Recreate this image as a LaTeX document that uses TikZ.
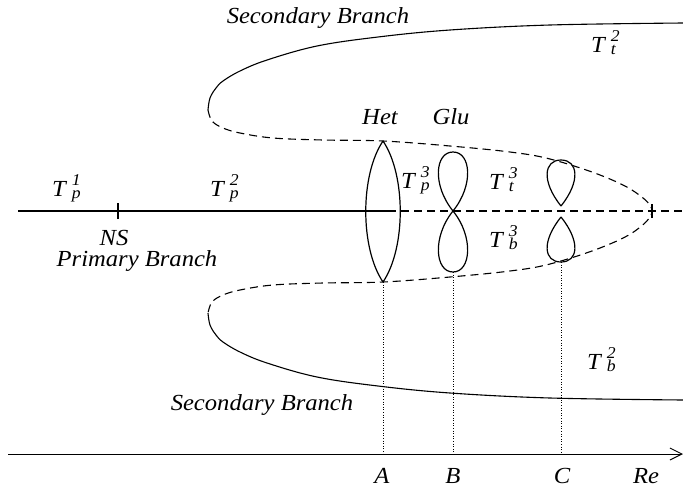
\documentclass[tikz,border=0pt]{standalone}
\usepackage{fontspec}
\setmainfont{Liberation Serif}[FakeStretch=1.07]
\usetikzlibrary{arrows.meta}
\newcommand{\scr}{\fontsize{16.5}{16.5}\selectfont\itshape}
\newcommand{\Tlab}[2]{\textit{T}\kern6pt\rlap{\raisebox{10.5pt}{\scr #2}}\raisebox{-2pt}{\scr #1}}
\tikzset{
  lbl/.style={font=\fontsize{23}{27}\selectfont\itshape, inner sep=0pt},
  branch/.style={line width=1.1pt},
  unstable/.style={line width=1.1pt, dash pattern=on 8pt off 5pt},
  primary/.style={line width=1.9pt},
  guide/.style={line width=0.8pt, dash pattern=on 1pt off 1.6pt},
  axisline/.style={line width=1pt, -{Straight Barb[length=12pt,width=12pt,line width=1pt]}},
  orbit/.style={line width=1.2pt}
}
\begin{document}
\begin{tikzpicture}[x=1pt,y=-1pt]
\useasboundingbox (0,0) rectangle (683,488);
% key coordinates
\coordinate (pstart) at (18,211);
\coordinate (psolidend) at (388,211);
\coordinate (pend) at (683,211);
\coordinate (hettop) at (383,141);
\coordinate (hetbot) at (383,282);
\coordinate (glu) at (453,211);
\coordinate (glutop) at (453,152);
\coordinate (glubot) at (453,272);
\coordinate (ct) at (561,206);
\coordinate (cttop) at (561,160);
\coordinate (cb) at (561,217);
\coordinate (cbbot) at (561,262);
\coordinate (axstart) at (8,454);
\coordinate (axend) at (683,454);
\coordinate (axA) at (383,454);
\coordinate (axB) at (453,454);
\coordinate (axC) at (561,454);
\coordinate (ns) at (118,211);
\coordinate (tip) at (652,211);

% primary branch
\draw[primary] (pstart) -- (psolidend);
\draw[line width=1.5pt, dash pattern=on 8pt off 5pt] (psolidend) -- (pend);
\draw[line width=1.2pt] ([yshift=-8pt]ns) -- ([yshift=8pt]ns);
\draw[line width=1.2pt] ([yshift=-7pt]tip) -- ([yshift=7pt]tip);

% secondary branches (stable, solid)
\draw[branch] plot[smooth, tension=0.6] coordinates {(208,110) (210,98) (216,88) (223,81) (240,71) (267,60) (317,46) (378,37) (450,30) (550,25) (683,23)};
\draw[branch] plot[smooth, tension=0.6] coordinates {(208,313) (210,325) (216,335) (223,342) (240,352) (267,363) (317,377) (378,386) (450,393) (550,398) (683,400)};
% unstable part (dashed)
\draw[unstable] plot[smooth, tension=0.6] coordinates {(208,110) (212,121) (223,128) (240,133) (273,138) (323,140) (383,141) (450,146) (510,152) (550,159) (600,175) (635,192) (652,211) (635,231) (600,248) (550,264) (510,271) (450,277) (383,282) (323,283) (273,285) (240,290) (223,295) (212,302) (208,313)};

% Het lens
\draw[orbit] (hettop) .. controls (360,175) and (360,248) .. (hetbot);
\draw[orbit] (hettop) .. controls (406,175) and (406,248) .. (hetbot);
% Glu figure eight
\draw[orbit] (glu) .. controls (432,185) and (435,152) .. (glutop) .. controls (471,152) and (474,185) .. (glu);
\draw[orbit] (glu) .. controls (432,237) and (435,272) .. (glubot) .. controls (471,272) and (474,237) .. (glu);
% teardrops
\draw[orbit] (ct) .. controls (541,181) and (544,160) .. (cttop) .. controls (578,160) and (581,181) .. (ct);
\draw[orbit] (cb) .. controls (541,242) and (544,262) .. (cbbot) .. controls (578,262) and (581,242) .. (cb);

% dotted guides
\draw[guide] (hetbot) -- (axA);
\draw[guide] (glubot) -- (axB);
\draw[guide] (cbbot) -- (axC);

% axis
\draw[axisline] (axstart) -- (axend);

% labels
\node[lbl] (sectop) at (318,18) {Secondary Branch};
\node[lbl] (secbot) at (262,405) {Secondary Branch};
\node[lbl] (prim) at (137,261) {Primary Branch};
\node[lbl] (nslab) at (114,238) {NS};
\node[lbl] (het) at (380,117) {Het};
\node[lbl] (glul) at (451,117) {Glu};
\node[lbl, anchor=base west] (tp1) at (52,196) {\Tlab{p}{1}};
\node[lbl, anchor=base west] (tp2) at (210,196) {\Tlab{p}{2}};
\node[lbl, anchor=base west] (tp3) at (401,188) {\Tlab{p}{3}};
\node[lbl, anchor=base west] (tt3) at (489,189) {\Tlab{t}{3}};
\node[lbl, anchor=base west] (tb3) at (489,247) {\Tlab{b}{3}};
\node[lbl, anchor=base west] (tt2) at (591,52) {\Tlab{t}{2}};
\node[lbl, anchor=base west] (tb2) at (587,369) {\Tlab{b}{2}};
\node[lbl] (la) at (382,476) {A};
\node[lbl] (lb) at (453,476) {B};
\node[lbl] (lc) at (562,476) {C};
\node[lbl] (lre) at (646,476) {Re};
\end{tikzpicture}
\end{document}
